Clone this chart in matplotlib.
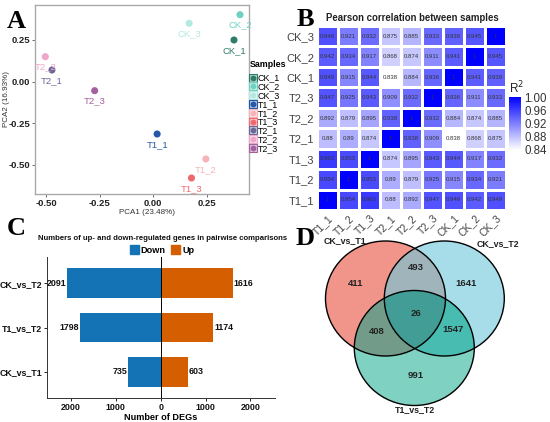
import numpy as np
import matplotlib
matplotlib.use("Agg")
import matplotlib.pyplot as plt
from matplotlib.colors import LinearSegmentedColormap
from matplotlib.lines import Line2D
from matplotlib.patches import Ellipse, Polygon, Patch

plt.rcParams['font.family'] = ['Liberation Sans', 'DejaVu Sans']

# ---------------- data ----------------
# Panel A: PCA
pca_samples = ['CK_1', 'CK_2', 'CK_3', 'T1_1', 'T1_2', 'T1_3', 'T2_1', 'T2_2', 'T2_3']
pc1 = [0.376, 0.404, 0.167, 0.018, 0.245, 0.178, -0.472, -0.503, -0.273]
pc2 = [0.250, 0.402, 0.350, -0.314, -0.464, -0.578, 0.070, 0.150, -0.054]
pca_colors = ['#2D7D69', '#6DD3C0', '#B2EADF', '#2458A8', '#F6B3B8', '#EC6A6E',
              '#6A6898', '#EFA6CB', '#A5609E']

# Panel B: Pearson correlation
hm_labels = ['T1_1', 'T1_2', 'T1_3', 'T2_1', 'T2_2', 'T2_3', 'CK_1', 'CK_2', 'CK_3']
r_T1_1 = [1, 0.954, 0.963, 0.88, 0.892, 0.947, 0.949, 0.942, 0.949]
r_T1_2 = [0.954, 1, 0.953, 0.89, 0.879, 0.925, 0.915, 0.934, 0.921]
r_T1_3 = [0.963, 0.953, 1, 0.874, 0.895, 0.943, 0.944, 0.917, 0.932]
r_T2_1 = [0.88, 0.89, 0.874, 1, 0.938, 0.909, 0.838, 0.868, 0.875]
r_T2_2 = [0.892, 0.879, 0.895, 0.938, 1, 0.932, 0.884, 0.874, 0.885]
r_T2_3 = [0.947, 0.925, 0.943, 0.909, 0.932, 1, 0.936, 0.911, 0.933]
r_CK_1 = [0.949, 0.915, 0.944, 0.838, 0.884, 0.936, 1, 0.941, 0.939]
r_CK_2 = [0.942, 0.934, 0.917, 0.868, 0.874, 0.911, 0.941, 1, 0.945]
r_CK_3 = [0.949, 0.921, 0.932, 0.875, 0.885, 0.933, 0.939, 0.945, 1]
cbar_ticks = [0.84, 0.88, 0.92, 0.96, 1.00]

# Panel C: DEGs
comparisons = ['CK_vs_T1', 'T1_vs_T2', 'CK_vs_T2']
down_counts = [735, 1798, 2091]
up_counts = [603, 1174, 1616]
deg_ticks = [-2000, -1000, 0, 1000, 2000]

# Panel D: Venn
venn_sets = ['CK_vs_T1', 'CK_vs_T2', 'T1_vs_T2']
venn_only1, venn_only2, venn_only3 = 411, 1641, 991
venn_12, venn_13, venn_23, venn_123 = 493, 408, 1547, 26

# ---------------- figure ----------------
W, H = 550, 422
fig = plt.figure(figsize=(W / 100, H / 100), dpi=100)


def fx(px):
    return px / W


def fy(py):
    return 1 - py / H


def rect(l, t, r, b):
    return [fx(l), fy(b), fx(r) - fx(l), fy(t) - fy(b)]


# ---------------- Panel A ----------------
axA = fig.add_axes(rect(35, 5, 249, 194))
for i, s in enumerate(pca_samples):
    axA.scatter(pc1[i], pc2[i], s=26, color=pca_colors[i], zorder=3, edgecolors='none')
    axA.annotate(s, (pc1[i], pc2[i]), xytext=(0, -7.5), textcoords='offset points',
                 ha='center', va='center', fontsize=6.8, color=pca_colors[i])
axA.set_xlim(-0.551, 0.446)
axA.set_ylim(-0.674, 0.46)
axA.set_xticks([-0.5, -0.25, 0, 0.25])
axA.set_xticklabels(['-0.50', '-0.25', '0.00', '0.25'])
axA.set_yticks([-0.5, -0.25, 0, 0.25])
axA.set_yticklabels(['-0.50', '-0.25', '0.00', '0.25'])
for sp in axA.spines.values():
    sp.set_color('#AAAAAA')
    sp.set_linewidth(1.0)
axA.tick_params(length=2, width=0.6, color='#555555', labelsize=6.8, pad=1.5)
for lab in axA.get_xticklabels() + axA.get_yticklabels():
    lab.set_fontweight('bold')
    lab.set_color('#222222')
fig.text(fx(147), fy(212), 'PCA1 (23.48%)', ha='center', va='center', fontsize=5.8, color='#333333')
fig.text(fx(6), fy(99), 'PCA2 (16.93%)', ha='center', va='center', fontsize=5.8,
         color='#333333', rotation=90)

handles = []
for c in pca_colors:
    handles.append((Line2D([], [], marker='s', markersize=5.3, linestyle='none',
                           markerfacecolor=c + '55', markeredgecolor=c, markeredgewidth=0.8),
                    Line2D([], [], marker='o', markersize=3.2, linestyle='none', color=c)))
legA = fig.legend(handles, pca_samples, loc='upper left',
                  bbox_to_anchor=(fx(244), fy(55)), frameon=False,
                  title='Samples', fontsize=6.4, handlelength=0.8, handleheight=0.6,
                  handletextpad=0.15, labelspacing=-0.02, borderpad=0.1,
                  title_fontproperties={'weight': 'bold', 'size': 6.4})
legA._legend_box.align = 'left'
legA._legend_box.sep = 3

# ---------------- Panel B ----------------
axB = fig.add_axes(rect(317, 26, 506, 210))
mat = np.array([r_T1_1, r_T1_2, r_T1_3, r_T2_1, r_T2_2, r_T2_3, r_CK_1, r_CK_2, r_CK_3])
cmap = LinearSegmentedColormap.from_list('wb', ['#FFFFFF', '#0000FF'])
n = len(hm_labels)
mesh = axB.pcolormesh(np.arange(n + 1) - 0.5, np.arange(n + 1) - 0.5, mat, cmap=cmap,
                      vmin=0.838, vmax=1.0, edgecolors='white', linewidth=1.0)
for i in range(n):
    for j in range(n):
        v = mat[i, j]
        axB.text(j, i, f"{v:g}", ha='center', va='center', fontsize=4.3, color='#333333')
axB.set_xlim(-0.5, n - 0.5)
axB.set_ylim(-0.5, n - 0.5)
axB.set_xticks(range(n))
axB.set_yticks(range(n))
axB.set_xticklabels(hm_labels, rotation=45, ha='right', va='top', rotation_mode='anchor')
axB.set_yticklabels(hm_labels)
axB.tick_params(length=0, labelsize=8, labelcolor='#444444', pad=2)
axB.tick_params(axis='x', labelsize=7.5)
for sp in axB.spines.values():
    sp.set_visible(False)
fig.text(fx(412), fy(18), 'Pearson correlation between samples', ha='center', va='center',
         fontsize=6.9, fontweight='bold', color='#222222')

cax = fig.add_axes(rect(509, 97, 520.5, 150))
cb = fig.colorbar(mesh, cax=cax, ticks=cbar_ticks)
cb.outline.set_visible(False)
cb.ax.set_yticklabels([f"{t:.2f}" for t in cbar_ticks])
cb.ax.tick_params(length=0, labelsize=8.3, labelcolor='#333333', pad=3)
fig.text(fx(509), fy(88), 'R$^2$', ha='left', va='center', fontsize=8.5, color='#222222')

# ---------------- Panel C ----------------
axC = fig.add_axes(rect(46.7, 257, 274.7, 398))
ypos = np.arange(len(comparisons))
col_down, col_up = '#1473B4', '#D55E00'
axC.barh(ypos, [-d for d in down_counts], height=0.68, color=col_down)
axC.barh(ypos, up_counts, height=0.68, color=col_up)
axC.axvline(0, color='black', lw=0.7)
for y, d, u in zip(ypos, down_counts, up_counts):
    axC.text(-d - 15, y, str(d), ha='right', va='center', fontsize=6.4, fontweight='bold', color='#111111')
    axC.text(u + 15, y, str(u), ha='left', va='center', fontsize=6.4, fontweight='bold', color='#111111')
axC.set_xlim(-2540, 2540)
axC.set_ylim(-0.6, 2.6)
axC.set_xticks(deg_ticks)
axC.set_xticklabels([str(abs(t)) for t in deg_ticks])
axC.set_yticks(ypos)
axC.set_yticklabels(comparisons)
axC.spines['top'].set_visible(False)
axC.spines['right'].set_visible(False)
axC.spines['left'].set_color('#333333')
axC.spines['bottom'].set_color('#333333')
axC.spines['left'].set_linewidth(0.7)
axC.spines['bottom'].set_linewidth(0.7)
axC.tick_params(length=2, width=0.6, labelsize=6.4, pad=1.5)
for lab in axC.get_xticklabels() + axC.get_yticklabels():
    lab.set_fontweight('bold')
    lab.set_color('#111111')
axC.set_xlabel('Number of DEGs', fontsize=6.6, fontweight='bold', labelpad=0.5)
fig.text(fx(163), fy(238), 'Numbers of up- and down-regulated genes in pairwise comparisons',
         ha='center', va='center', fontsize=5.6, fontweight='bold', color='#111111')
fig.legend([Patch(color=col_down), Patch(color=col_up)], ['Down', 'Up'], loc='center',
           bbox_to_anchor=(fx(162), fy(250)), ncol=2, frameon=False,
           handlelength=1.0, handleheight=1.0, handletextpad=0.2, columnspacing=0.6,
           prop={'weight': 'bold', 'size': 6.6})

# ---------------- Panel D ----------------
axD = fig.add_axes(rect(290, 197, 550, 422))
axD.set_xlim(290, 550)
axD.set_ylim(422, 197)
axD.axis('off')

centers = [(385.5, 298.5), (444.3, 298.5), (414.3, 348.0)]
ew, eh = 120, 115
c_only = ['#F1958B', '#A7DDE9', '#7FD2C2']
c12, c13, c23, c123 = '#A0B4BB', '#729C89', '#49BCB1', '#419D95'


def ell(k, color, **kw):
    return Ellipse(centers[k], ew, eh, facecolor=color, edgecolor='none', **kw)


def inside(pt, k):
    cx, cy = centers[k]
    return ((pt[0] - cx) / (ew / 2)) ** 2 + ((pt[1] - cy) / (eh / 2)) ** 2 <= 1.0


for k in range(3):
    axD.add_patch(ell(k, c_only[k]))
e1 = axD.add_patch(ell(0, 'none'))
e2 = axD.add_patch(ell(1, 'none'))
p = axD.add_patch(ell(1, c12)); p.set_clip_path(e1)
p = axD.add_patch(ell(2, c13)); p.set_clip_path(e1)
p = axD.add_patch(ell(2, c23)); p.set_clip_path(e2)

# lens (set1 ∩ set2) polygon used as clip for the triple region
t = np.linspace(0, 2 * np.pi, 1440, endpoint=False)
pts = []
for k, other in ((0, 1), (1, 0)):
    cx, cy = centers[k]
    for a in t:
        q = (cx + ew / 2 * np.cos(a), cy + eh / 2 * np.sin(a))
        if inside(q, other):
            pts.append(q)
pts = np.array(pts)
m = pts.mean(axis=0)
pts = pts[np.argsort(np.arctan2(pts[:, 1] - m[1], pts[:, 0] - m[0]))]
lens = axD.add_patch(Polygon(pts, closed=True, facecolor='none', edgecolor='none'))
p = axD.add_patch(ell(2, c123)); p.set_clip_path(lens)

for k in range(3):
    axD.add_patch(Ellipse(centers[k], ew, eh, facecolor='none', edgecolor='black', lw=1.0))

fsD = 6.8
for (x, y), v in zip([(356, 283), (465.7, 283), (415.7, 375), (415.7, 268),
                      (376.7, 332), (453.3, 330), (415.7, 314)],
                     [venn_only1, venn_only2, venn_only3, venn_12, venn_13, venn_23, venn_123]):
    axD.text(x, y, str(v), ha='center', va='center', fontsize=fsD, fontweight='bold', color='#222222')
for (x, y), s in zip([(345, 241), (498, 244), (415, 410)], venn_sets):
    axD.text(x, y, s, ha='center', va='center', fontsize=6.4, fontweight='bold', color='#222222')

# ---------------- panel letters ----------------
for (x, y), s in zip([(16, 21), (305.5, 19.5), (16, 228.5), (305, 238.5)], 'ABCD'):
    fig.text(fx(x), fy(y), s, ha='center', va='center', fontsize=19, fontweight='bold',
             family='Liberation Serif', color='black')

fig.savefig('out.png', dpi=100)
